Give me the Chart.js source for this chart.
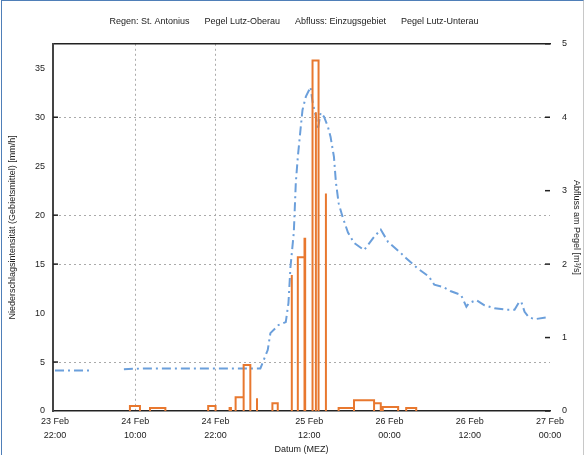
<!DOCTYPE html>
<html>
<head>
<meta charset="utf-8">
<script src="https://cdn.jsdelivr.net/npm/chart.js@4.4.1/dist/chart.umd.min.js"></script>
<style>
  body { margin: 0; background: #fff; }
  #wrap { position: relative; width: 588px; height: 455px; }
  #frame { position: absolute; left: 1px; top: 0; width: 581px; height: 454px;
           border-left: 1px solid #4f7fb8; border-top: 1px solid #4f7fb8; border-right: 1px solid #c8c8c8;
           pointer-events: none; }
</style>
</head>
<body>
<div id="wrap">
  <canvas id="chart" width="588" height="455"></canvas>
  <div id="frame"></div>
</div>
<script>
// x ticks (hours from 23 Feb 22:00)
const tickHours = [0, 12, 24, 38, 50, 62, 74];
const tickLabels = [
  ['23 Feb', '22:00'], ['24 Feb', '10:00'], ['24 Feb', '22:00'],
  ['25 Feb', '12:00'], ['26 Feb', '00:00'], ['26 Feb', '12:00'], ['27 Feb', '00:00']
];
const xGridHours = [12, 24];
const leftGridValues = [5, 15, 20, 30];

// rainfall intensity bars [mm/h]
const rainStart = [11.2, 14.2, 22.9, 26.1, 27.0, 28.2, 30.2, 32.5, 35.4, 36.3, 37.3, 38.5, 39.0, 40.5, 42.4, 44.7, 47.7, 49.0, 52.5];
const rainEnd   = [12.7, 16.5, 24.0, 26.3, 28.2, 29.2, 30.2, 33.3, 35.4, 37.3, 37.4, 39.4, 39.0, 40.5, 44.7, 47.7, 48.7, 51.3, 54.0];
const rainValue = [0.5, 0.3, 0.5, 0.3, 1.4, 4.7, 1.3, 0.8, 13.9, 15.7, 17.6, 35.8, 30.5, 22.2, 0.3, 1.1, 0.8, 0.4, 0.3];

// discharge [m3/s]
const flowHours = [0, 5.2, 7.5, 10.3, 13.5, 21.7, 30.7, 31.8, 32.2, 33.4, 34.5, 34.9, 35.2, 35.7, 36.0, 36.3, 36.7, 37.0,
  37.5, 38.2, 38.5, 39.0, 39.3, 39.7, 40.2, 40.8, 41.2, 41.7, 42.0, 42.4, 43.0, 43.8, 44.7, 46.2, 47.7, 48.7, 49.8,
  51.7, 52.5, 53.5, 54.1, 55.9, 56.7, 58.0, 59.2, 60.7, 61.5, 61.9, 63.0, 64.2, 65.7, 67.5, 68.7, 69.3, 69.7, 70.2,
  70.8, 71.7, 73.9];
const flowValues = [0.55, 0.55, null, 0.57, 0.58, 0.58, 0.58, 0.83, 1.06, 1.17, 1.21, 1.47, 1.96, 2.43, 3.11, 3.46, 3.83, 4.10,
  4.28, 4.41, 4.21, 4.01, 3.83, 4.06, 4.01, 3.87, 3.73, 3.46, 3.11, 2.83, 2.64, 2.43, 2.29, 2.19, 2.37, 2.47, 2.30,
  2.15, 2.08, 2.00, 1.95, 1.83, 1.72, 1.69, 1.63, 1.58, 1.42, 1.47, 1.51, 1.44, 1.40, 1.38, 1.38, 1.47, 1.49, 1.35,
  1.28, 1.25, 1.28];

const rainPoints = [];
rainStart.forEach((s, i) => {
  const e = rainEnd[i], v = rainValue[i];
  rainPoints.push({x: s, y: 0}, {x: s, y: v}, {x: e, y: v}, {x: e, y: 0}, {x: e, y: null});
});
const flowPoints = flowHours.map((h, i) => ({x: h, y: flowValues[i]}));

const font = {family: "'Liberation Sans', Arial, sans-serif", size: 9};

/* inward tick marks */
const innerTicks = {
  id: 'innerTicks',
  afterDatasetsDraw(chart) {
    const {ctx, chartArea: a, scales} = chart;
    ctx.save();
    ctx.strokeStyle = '#222';
    ctx.lineWidth = 1.5;
    leftGridValues.forEach(v => {
      const y = scales.y.getPixelForValue(v);
      ctx.beginPath(); ctx.moveTo(a.left, y); ctx.lineTo(a.left + 5, y); ctx.stroke();
    });
    scales.y1.ticks.forEach(t => {
      const y = scales.y1.getPixelForValue(t.value);
      ctx.beginPath(); ctx.moveTo(a.right - 5, y); ctx.lineTo(a.right, y); ctx.stroke();
    });
    ctx.restore();
  }
};

new Chart(document.getElementById('chart'), {
  type: 'line',
  data: {
    datasets: [
      {data: rainPoints, yAxisID: 'y', borderColor: '#e8782f', borderWidth: 2, pointRadius: 0, spanGaps: false, tension: 0},
      {data: flowPoints, yAxisID: 'y1', borderColor: '#6b9fdb', borderWidth: 2, borderDash: [9, 4, 2, 4],
       pointRadius: 0, spanGaps: false, tension: 0}
    ]
  },
  options: {
    responsive: false,
    animation: false,
    devicePixelRatio: 1,
    layout: {padding: 0},
    plugins: {
      legend: {display: false},
      tooltip: {enabled: false},
      title: {
        display: true,
        text: 'Regen: St. Antonius      Pegel Lutz-Oberau      Abfluss: Einzugsgebiet      Pegel Lutz-Unterau',
        color: '#222', font: {...font, weight: 'normal'},
        padding: {top: 16, bottom: 17}
      }
    },
    scales: {
      x: {
        type: 'linear', min: -0.3, max: 74,
        afterBuildTicks: s => { s.ticks = tickHours.map(v => ({value: v})); },
        afterFit: s => { s.height = 44; },
        ticks: {color: '#222', font: {...font, lineHeight: 1.5}, padding: 4, maxRotation: 0,
                callback: (v) => tickLabels[tickHours.indexOf(v)]},
        grid: {drawTicks: false, color: c => (c.tick && xGridHours.includes(c.tick.value)) ? '#aaa' : 'rgba(0,0,0,0)'},
        border: {color: '#222', width: 1.5, dash: [2, 3]},
        title: {display: true, text: 'Datum (MEZ)', color: '#222', font, padding: {top: 0, bottom: 0}}
      },
      xTop: {
        type: 'linear', position: 'top', min: -0.3, max: 74,
        afterFit: s => { s.height = 0; },
        ticks: {display: false},
        grid: {display: false, drawTicks: false},
        border: {color: '#222', width: 1.5}
      },
      y: {
        position: 'left', min: 0, max: 37.5,
        afterFit: s => { s.width = 53; },
        ticks: {stepSize: 5, includeBounds: false, color: '#222', font, padding: 8},
        grid: {drawTicks: false, color: c => (c.tick && leftGridValues.includes(c.tick.value)) ? '#aaa' : 'rgba(0,0,0,0)'},
        border: {color: '#444', width: 2, dash: [2, 3]},
        title: {display: true, text: 'Niederschlagsintensität (Gebietsmittel) [mm/h]', color: '#222', font, padding: {top: 7, bottom: 0}}
      },
      y1: {
        position: 'right', min: 0, max: 5,
        afterFit: s => { s.width = 38; },
        ticks: {stepSize: 1, color: '#222', font, padding: 12},
        grid: {display: false, drawTicks: false},
        border: {display: false},
        title: {display: true, text: 'Abfluss am Pegel [m³/s]', color: '#222', font, padding: {top: 6, bottom: 0}}
      }
    }
  },
  plugins: [innerTicks]
});
</script>
</body>
</html>
